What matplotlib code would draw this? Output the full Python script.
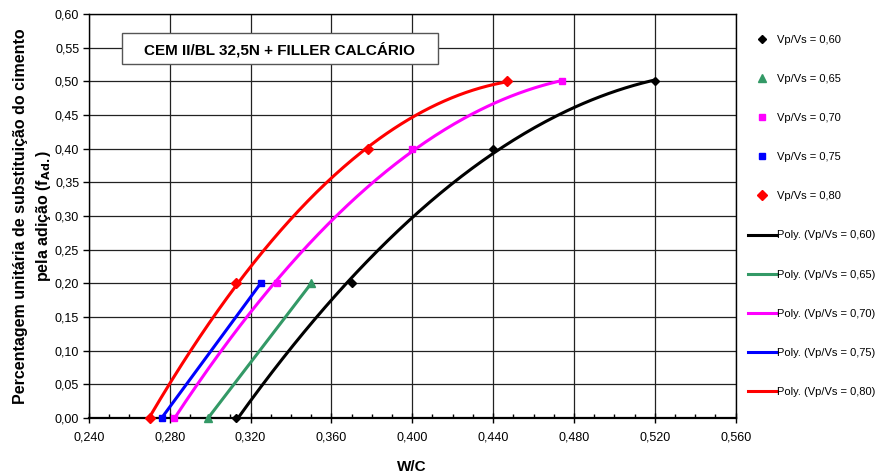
import matplotlib
matplotlib.use('Agg')
import matplotlib.pyplot as plt
import numpy as np
from matplotlib.lines import Line2D
from matplotlib.patches import Rectangle
from matplotlib.ticker import FuncFormatter, MultipleLocator

plt.rcParams.update({
    'font.family': ['Liberation Sans', 'DejaVu Sans'],
    'font.size': 9,
})

# W/C values per Vp/Vs series and corresponding f_Ad
LABELS = ['0,60', '0,65', '0,70', '0,75', '0,80']
WC_060 = [0.313, 0.370, 0.440, 0.520]
FA_060 = [0.00, 0.20, 0.40, 0.50]
WC_065 = [0.299, 0.350]
FA_065 = [0.00, 0.20]
WC_070 = [0.282, 0.333, 0.400, 0.474]
FA_070 = [0.00, 0.20, 0.40, 0.50]
WC_075 = [0.276, 0.325]
FA_075 = [0.00, 0.20]
WC_080 = [0.270, 0.313, 0.378, 0.447]
FA_080 = [0.00, 0.20, 0.40, 0.50]

SERIES = [(WC_060, FA_060), (WC_065, FA_065), (WC_070, FA_070), (WC_075, FA_075), (WC_080, FA_080)]
COLORS = ['#000000', '#339966', '#FF00FF', '#0000FF', '#FF0000']
MARKERS = ['D', '^', 's', 's', 'D']
MSIZES = [4.5, 5.5, 5, 5, 5]

fig = plt.figure(figsize=(8.8, 4.75), dpi=100)
ax = fig.add_axes([0.101, 0.12, 0.735, 0.8505])

# polynomial trendlines (order 2 when enough points, linear otherwise)
for (x, y), c in zip(SERIES, COLORS):
    x, y = np.array(x), np.array(y)
    deg = 2 if len(x) > 2 else 1
    coef = np.polyfit(x, y, deg)
    xs = np.linspace(x.min(), x.max(), 200)
    ax.plot(xs, np.polyval(coef, xs), color=c, lw=2.2, zorder=3, clip_on=False)

for (x, y), c, m, ms in zip(SERIES, COLORS, MARKERS, MSIZES):
    ax.plot(x, y, linestyle='none', marker=m, color=c, markersize=ms, zorder=4, clip_on=False)

ax.set_xlim(0.24, 0.56)
ax.set_ylim(0.0, 0.60)
ax.xaxis.set_major_locator(MultipleLocator(0.04))
ax.xaxis.set_minor_locator(MultipleLocator(0.01))
ax.yaxis.set_major_locator(MultipleLocator(0.05))
ax.xaxis.set_major_formatter(FuncFormatter(lambda v, p: f'{v:.3f}'.replace('.', ',')))
ax.yaxis.set_major_formatter(FuncFormatter(lambda v, p: f'{v:.2f}'.replace('.', ',')))
ax.tick_params(axis='x', which='major', direction='inout', length=7, width=1, pad=6, labelsize=9)
ax.tick_params(axis='x', which='minor', direction='in', length=3, width=1)
ax.tick_params(axis='y', which='major', direction='out', length=4, width=1, pad=3, labelsize=9)
ax.grid(True, which='major', color='#222222', lw=0.9)
ax.set_axisbelow(True)
for s in ax.spines.values():
    s.set_linewidth(1.0)
ax.spines['bottom'].set_linewidth(1.6)

ax.set_xlabel('W/C', fontsize=11, fontweight='bold', labelpad=12)
ax.set_ylabel('Percentagem unitária de substituição do cimento\npela adição (f$_{\\mathbf{Ad.}}$)',
              fontsize=11.5, fontweight='bold', labelpad=1, linespacing=1.45)

# title box
ax.add_patch(Rectangle((0.2565, 0.526), 0.1563, 0.046, facecolor='white', edgecolor='#555555',
                       lw=1, zorder=5))
ax.text(0.3345, 0.5475, 'CEM II/BL 32,5N + FILLER CALCÁRIO', fontsize=11, fontweight='bold',
        ha='center', va='center', zorder=6)

handles = []
for c, m, ms, lab in zip(COLORS, MARKERS, MSIZES, LABELS):
    handles.append(Line2D([], [], linestyle='none', marker=m, color=c, markersize=ms,
                          label=f'Vp/Vs = {lab}'))
for c, lab in zip(COLORS, LABELS):
    handles.append(Line2D([], [], color=c, lw=2.2, label=f'Poly. (Vp/Vs = {lab})'))
fig.legend(handles=handles, loc='upper left', bbox_to_anchor=(0.845, 0.936), frameon=False,
           fontsize=8, handlelength=2.6, handletextpad=0.05, labelspacing=2.62,
           borderaxespad=0)

fig.savefig('out.png', dpi=100)
